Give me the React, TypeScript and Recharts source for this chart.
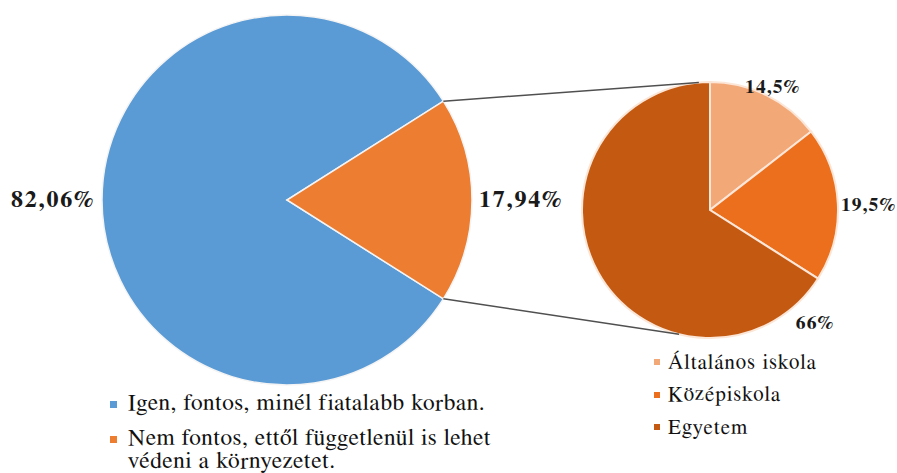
import React from 'react';
import { PieChart, Pie, Cell } from 'recharts';

// main pie: is it important to teach environmental protection early?
const mainNames = [
  'Igen, fontos, minél fiatalabb korban.',
  'Nem fontos, ettől függetlenül is lehet védeni a környezetet.',
];
const mainValues = [82.06, 17.94];

// breakdown of the "Nem fontos" answers by school level
const subNames = ['Általános iskola', 'Középiskola', 'Egyetem'];
const subValues = [14.5, 19.5, 66];

const mainColors = ['#5B9BD5', '#ED7D31'];
const subColors = ['#F3A878', '#EB6F1C', '#C45A12'];

const mainData = mainNames.map((name, i) => ({ name, value: mainValues[i] }));
const subData = subNames.map((name, i) => ({ name, value: subValues[i] }));

const W = 897;
const H = 473;
const RADIAN = Math.PI / 180;
// Liberation Serif isn't picked up reliably in the sandbox, FreeSerif is
const serif = "FreeSerif, 'Liberation Serif', 'DejaVu Serif', serif";

// layout
const main = { cx: 287, cy: 200, r: 185 };
const sub = { cx: 710, cy: 210, r: 128 };

// orange slice is centred on the right-hand side
const halfOrange = (mainValues[1] / 100) * 360 / 2;
const mainStart = halfOrange;
const mainEnd = halfOrange + 360;

const fmt = (v: number) => String(v).replace('.', ',') + '%';

const polar = (cx: number, cy: number, r: number, angle: number) => ({
  x: cx + r * Math.cos(-angle * RADIAN),
  y: cy + r * Math.sin(-angle * RADIAN),
});

const mainLabel = (props: any) => {
  const { cx, cy, outerRadius, midAngle, value } = props;
  const p = polar(cx, cy, outerRadius + 7, midAngle);
  const left = Math.cos(-midAngle * RADIAN) < 0;
  return (
    <text
      x={p.x}
      y={p.y}
      textAnchor={left ? 'end' : 'start'}
      dominantBaseline="central"
      style={{ fontFamily: serif, letterSpacing: 1.8 }}
      fontWeight="bold"
      fontSize={24}
      fill="#1a1a1a"
    >
      {fmt(value)}
    </text>
  );
};

// Excel put the small-pie labels by hand, so each one gets its own angle/radius
const subLabelPos = [
  { angle: 63, r: 138, anchor: 'middle' },
  { angle: 2, r: 131, anchor: 'start' },
  { angle: -47, r: 154, anchor: 'middle' },
];

const subLabel = (props: any) => {
  const { cx, cy, index, value } = props;
  const pos = subLabelPos[index];
  const p = polar(cx, cy, pos.r, pos.angle);
  return (
    <text
      x={p.x}
      y={p.y}
      textAnchor={pos.anchor as any}
      dominantBaseline="central"
      style={{ fontFamily: serif, letterSpacing: 1.1 }}
      fontWeight="bold"
      fontSize={19.5}
      fill="#1a1a1a"
    >
      {fmt(value)}
    </text>
  );
};

export default function App() {
  const topMain = polar(main.cx, main.cy, main.r, halfOrange);
  const botMain = polar(main.cx, main.cy, main.r, -halfOrange);
  const topSub = polar(sub.cx, sub.cy, sub.r, 95);
  const botSub = polar(sub.cx, sub.cy, sub.r, -104);

  return (
    <div style={{ position: 'absolute', left: 0, top: 0, width: W, height: H, background: '#fff', overflow: 'hidden' }}>
      <PieChart width={W} height={H} margin={{ top: 0, right: 0, bottom: 0, left: 0 }}>
        <Pie
          data={mainData}
          dataKey="value"
          cx={main.cx}
          cy={main.cy}
          outerRadius={main.r}
          startAngle={mainStart}
          endAngle={mainEnd}
          stroke="#f4f4f4"
          strokeWidth={1.5}
          label={mainLabel}
          labelLine={false}
          isAnimationActive={false}
        >
          {mainData.map((d, i) => (
            <Cell key={d.name} fill={mainColors[i]} />
          ))}
        </Pie>
        <Pie
          data={subData}
          dataKey="value"
          cx={sub.cx}
          cy={sub.cy}
          outerRadius={sub.r}
          startAngle={90}
          endAngle={-270}
          stroke="#fbe6d8"
          strokeWidth={2}
          label={subLabel}
          labelLine={false}
          isAnimationActive={false}
        >
          {subData.map((d, i) => (
            <Cell key={d.name} fill={subColors[i]} />
          ))}
        </Pie>
      </PieChart>

      {/* connector lines between the pies */}
      <svg width={W} height={H} style={{ position: 'absolute', left: 0, top: 0, pointerEvents: 'none' }}>
        <line x1={topMain.x} y1={topMain.y} x2={topSub.x} y2={topSub.y} stroke="#505050" strokeWidth={1.5} />
        <line x1={botMain.x} y1={botMain.y} x2={botSub.x} y2={botSub.y} stroke="#505050" strokeWidth={1.5} />
      </svg>

      {/* legend of the main pie */}
      <div style={{ position: 'absolute', left: 110, top: 392, width: 440, fontFamily: serif, fontSize: 23.5, letterSpacing: 0.6, color: '#111' }}>
        {mainNames.map((n, i) => (
          <div key={n} style={{ display: 'flex', alignItems: 'flex-start', marginBottom: 12, lineHeight: '23px' }}>
            <span style={{ width: 7, height: 7, background: mainColors[i], marginTop: 9, marginRight: 11, flex: 'none' }} />
            <span style={{ width: 375 }}>{n}</span>
          </div>
        ))}
      </div>

      {/* legend of the small pie */}
      <div style={{ position: 'absolute', left: 654, top: 346, fontFamily: serif, fontSize: 21, letterSpacing: 1.1, color: '#111' }}>
        {subNames.map((n, i) => (
          <div key={n} style={{ display: 'flex', alignItems: 'center', height: 32.5 }}>
            <span style={{ width: 6, height: 6, background: subColors[i], marginRight: 8 }} />
            <span>{n}</span>
          </div>
        ))}
      </div>
    </div>
  );
}
